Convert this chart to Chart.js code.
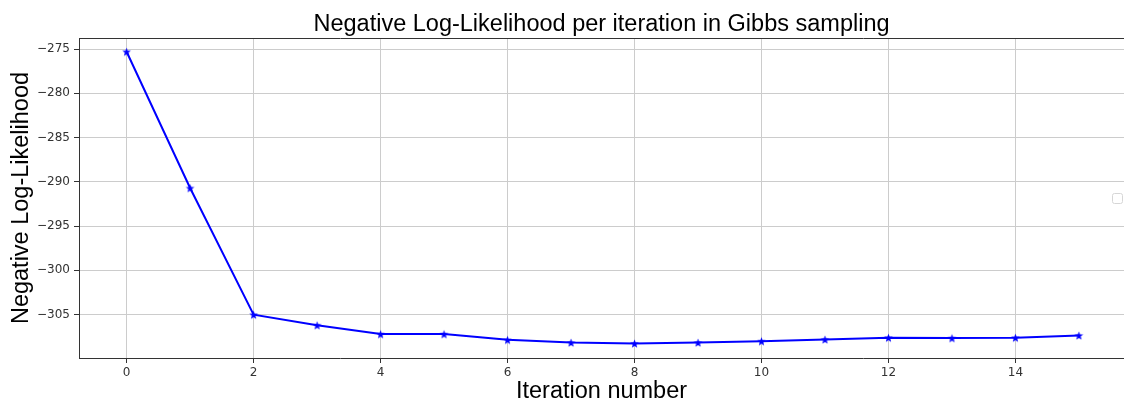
<!DOCTYPE html>
<html>
<head>
<meta charset="utf-8">
<script src="https://cdn.jsdelivr.net/npm/chart.js@4/dist/chart.umd.min.js"></script>
<style>
  html, body { margin: 0; padding: 0; background: #fff; }
  #wrap { width: 1124px; height: 405px; }
</style>
</head>
<body>
<div id="wrap"><canvas id="nll" width="1124" height="405"></canvas></div>
<script>
// iteration index and the negative log-likelihood
var iterations = [0, 1, 2, 3, 4, 5, 6, 7, 8, 9, 10, 11, 12, 13, 14, 15];
var nll = [-275.3, -290.7, -305.0, -306.2, -307.2, -307.2, -307.85, -308.15,
           -308.25, -308.15, -308.0, -307.8, -307.6, -307.65, -307.6, -307.35];
var xTicks = [0, 2, 4, 6, 8, 10, 12, 14];
var yTicks = [-305, -300, -295, -290, -285, -280, -275];

// filled five-point star, like matplotlib's '*' marker
function starMarker(r) {
  var c = document.createElement('canvas');
  var s = Math.ceil(r * 2 + 2);
  c.width = s; c.height = s;
  var g = c.getContext('2d');
  g.translate(s / 2, s / 2 + 0.5);
  g.beginPath();
  for (var k = 0; k < 10; k++) {
    var rad = k % 2 === 0 ? r : r * 0.42;
    var a = -Math.PI / 2 + k * Math.PI / 5;
    if (k === 0) g.moveTo(rad * Math.cos(a), rad * Math.sin(a));
    else g.lineTo(rad * Math.cos(a), rad * Math.sin(a));
  }
  g.closePath();
  g.fillStyle = '#0000ff';
  g.fill();
  return c;
}

var points = iterations.map(function(it, i) { return { x: it, y: nll[i] }; });
var minus = function(v) { return String(v).replace('-', '\u2212'); };
var noPad = function(s) { s.paddingLeft = 0; s.paddingRight = 0; };

// the empty legend frame that matplotlib leaves on the right
var extras = {
  id: 'extras',
  afterDraw: function(chart) {
    var ctx = chart.ctx;
    ctx.save();
    ctx.strokeStyle = '#d6d6d6';
    ctx.lineWidth = 1;
    ctx.beginPath();
    ctx.roundRect(1112.5, 193.5, 10, 10, 2);
    ctx.stroke();
    ctx.restore();
  }
};

var labelFont = { family: 'Liberation Sans', size: 23.5, weight: 'normal' };

new Chart(document.getElementById('nll').getContext('2d'), {
  type: 'line',
  data: {
    datasets: [{
      data: points,
      borderColor: '#0000ff',
      borderWidth: 2,
      pointStyle: starMarker(4.5),
      pointRadius: 4.5,
      pointHoverRadius: 4.5,
      tension: 0,
      fill: false
    }]
  },
  options: {
    responsive: false,
    animation: false,
    layout: { padding: 0, autoPadding: false },
    plugins: {
      legend: { display: false },
      tooltip: { enabled: false }
    },
    scales: {
      x: {
        type: 'linear',
        min: -0.75,
        max: 15.71,
        afterBuildTicks: function(s) { s.ticks = xTicks.map(function(v) { return { value: v }; }); },
        afterFit: function(s) { s.height = 47; noPad(s); },
        grid: { color: '#cccccc', lineWidth: 1, tickLength: 5, tickColor: '#333' },
        border: { color: '#333', width: 1 },
        ticks: {
          color: '#333',
          padding: 3,
          maxRotation: 0,
          font: { family: 'DejaVu Sans', size: 12 },
          callback: function(v) { return minus(v); }
        },
        title: {
          display: true,
          text: 'Iteration number',
          color: '#000',
          font: labelFont,
          padding: { top: 0, bottom: -1 }
        }
      },
      // top spine; its title serves as the chart heading, centred on the axes
      xTop: {
        type: 'linear',
        position: 'top',
        min: -0.75,
        max: 15.71,
        afterFit: function(s) { s.height = 38; noPad(s); },
        grid: { display: false },
        border: { display: true, color: '#333', width: 1 },
        ticks: { display: false },
        title: {
          display: true,
          text: 'Negative Log-Likelihood per iteration in Gibbs sampling',
          color: '#000',
          font: labelFont,
          padding: { top: 10, bottom: 0 }
        }
      },
      y: {
        min: -309.9,
        max: -273.75,
        afterBuildTicks: function(s) { s.ticks = yTicks.map(function(v) { return { value: v }; }); },
        afterFit: function(s) { s.width = 79; },
        grid: { color: '#cccccc', lineWidth: 1, tickLength: 5, tickColor: '#333' },
        border: { color: '#333', width: 1 },
        ticks: {
          color: '#333',
          padding: 4,
          font: { family: 'DejaVu Sans', size: 12 },
          callback: function(v) { return minus(v); }
        },
        title: {
          display: true,
          text: 'Negative Log-Likelihood',
          color: '#000',
          font: labelFont,
          padding: { top: 7, bottom: 0 }
        }
      }
    }
  },
  plugins: [extras]
});
</script>
</body>
</html>
